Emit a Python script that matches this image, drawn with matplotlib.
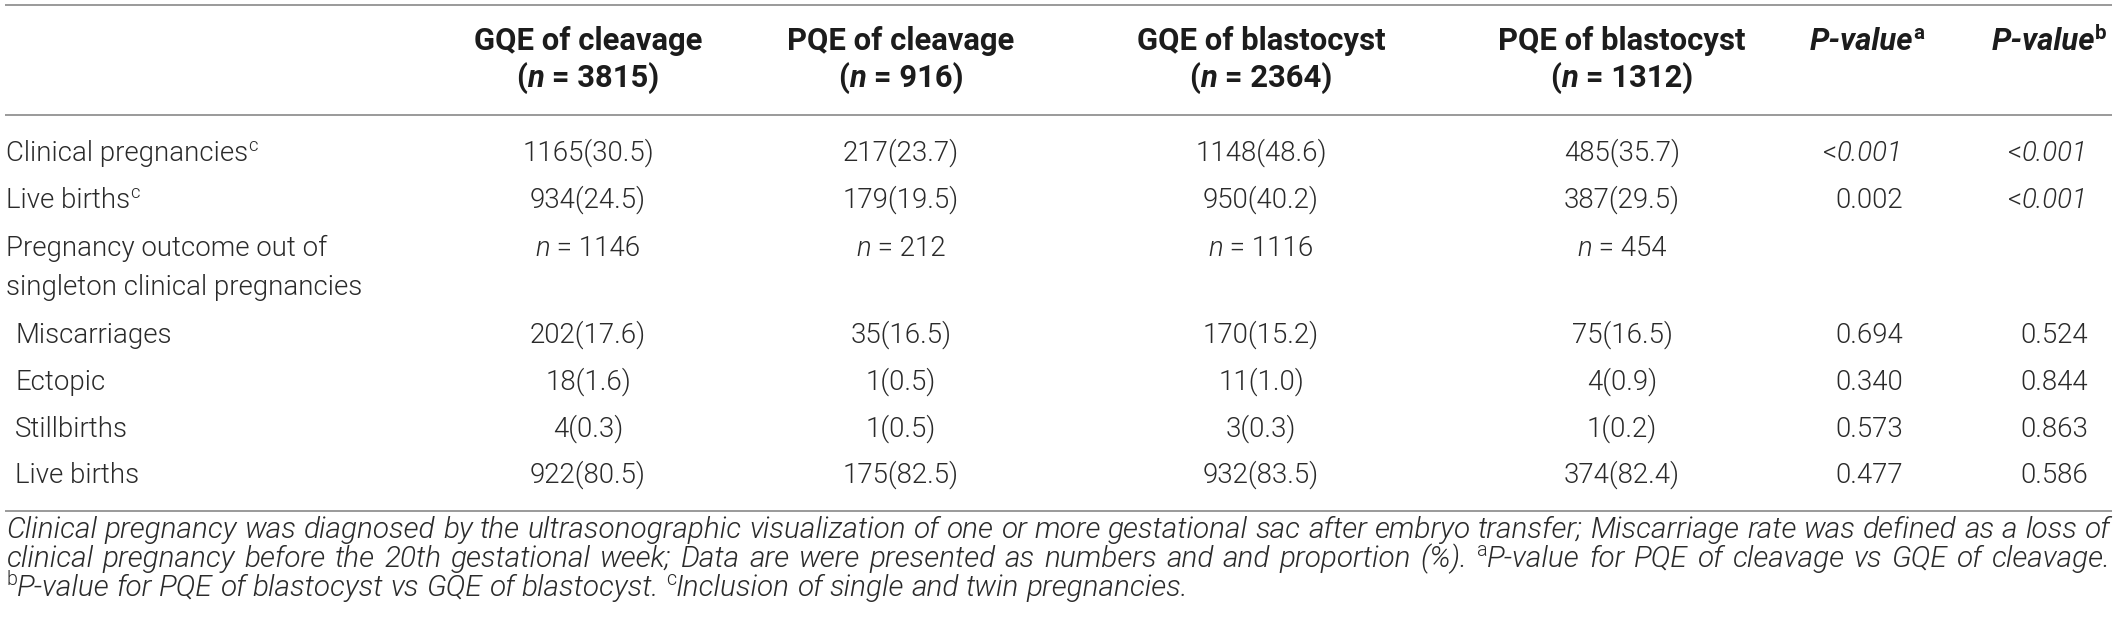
import matplotlib
matplotlib.use("Agg")
import matplotlib.pyplot as plt

# ---------------- data ----------------
group_names = ["GQE of cleavage", "PQE of cleavage", "GQE of blastocyst", "PQE of blastocyst"]
group_sizes = [3815, 916, 2364, 1312]
pvalue_headers = ["a", "b"]

row_labels = ["Clinical pregnancies", "Live births",
              "Pregnancy outcome out of\nsingleton clinical pregnancies",
              "Miscarriages", "Ectopic", "Stillbirths", "Live births"]
row_label_sup = ["c", "c", "", "", "", "", ""]
row_indented = [False, False, False, True, True, True, True]

gqe_cleavage_count = [1165, 934, 1146, 202, 18, 4, 922]
gqe_cleavage_pct = [30.5, 24.5, None, 17.6, 1.6, 0.3, 80.5]
pqe_cleavage_count = [217, 179, 212, 35, 1, 1, 175]
pqe_cleavage_pct = [23.7, 19.5, None, 16.5, 0.5, 0.5, 82.5]
gqe_blastocyst_count = [1148, 950, 1116, 170, 11, 3, 932]
gqe_blastocyst_pct = [48.6, 40.2, None, 15.2, 1.0, 0.3, 83.5]
pqe_blastocyst_count = [485, 387, 454, 75, 4, 1, 374]
pqe_blastocyst_pct = [35.7, 29.5, None, 16.5, 0.9, 0.2, 82.4]
p_value_a = ["<0.001", "0.002", "", "0.694", "0.340", "0.573", "0.477"]
p_value_b = ["<0.001", "<0.001", "", "0.524", "0.844", "0.863", "0.586"]

footnote_lines = [
    [("Clinical pregnancy was diagnosed by the ultrasonographic visualization of one or more "
      "gestational sac after embryo transfer; Miscarriage rate was defined as a loss of", "it")],
    [("clinical pregnancy before the 20th gestational week; Data are were presented as numbers "
      "and and proportion (%). ", "it"), ("a", "sup"),
     ("P-value for PQE of cleavage vs GQE of cleavage.", "it")],
    [("b", "sup"), ("P-value for PQE of blastocyst vs GQE of blastocyst. ", "it"),
     ("c", "sup"), ("Inclusion of single and twin pregnancies.", "it")],
]

# ---------------- layout ----------------
W, H = 2120, 634
fig = plt.figure(figsize=(W / 100, H / 100), dpi=100)
ax = fig.add_axes([0, 0, 1, 1])
ax.set_xlim(0, W)
ax.set_ylim(H, 0)
ax.axis("off")
renderer = fig.canvas.get_renderer()

FAM = ["Roboto", "Liberation Sans", "DejaVu Sans"]
TXT = "#2a2a2a"
HDR = "#1c1c1c"
RULE = "#9a9a9a"


def sty(size, weight=300, italic=False, color=TXT):
    return dict(family=FAM, fontsize=size, fontweight=weight,
                fontstyle="italic" if italic else "normal", color=color)


def adv(s, st):
    t1 = ax.text(0, 0, "H" + s + "H", **st)
    t2 = ax.text(0, 0, "HH", **st)
    w = (t1.get_window_extent(renderer=renderer).width
         - t2.get_window_extent(renderer=renderer).width)
    t1.remove()
    t2.remove()
    return w


def draw_runs(x, y, runs, ha="left"):
    ws = [adv(s, st) for s, st, dy in runs]
    tot = sum(ws)
    x0 = x - tot if ha == "right" else (x - tot / 2 if ha == "center" else x)
    for (s, st, dy), w in zip(runs, ws):
        ax.text(x0, y - dy, s, ha="left", va="baseline", **st)
        x0 += w
    return tot


# font sizes fitted to the reference text widths
body = 20 * 242 / adv("Clinical pregnancies", sty(20))
head = 20 * 228 / adv("GQE of cleavage", sty(20, 700, color=HDR))
foot_nat = sum(adv(s, sty(20, italic=(k == "it"))) if k == "it" else adv(s, sty(20 * 0.68))
               for s, k in footnote_lines[2])
foot = 20 * 1183 / foot_nat

px = 100 / 72.0
SUP = 0.66

# rules
for yy in (5, 115, 511):
    ax.plot([5, 2112], [yy, yy], color=RULE, lw=1.4, solid_capstyle="butt")

# header
col_x = [588, 901, 1261, 1622]
pa_right, pb_right = 1903, 2088
for cx, name, n in zip(col_x, group_names, group_sizes):
    draw_runs(cx, 50, [(name, sty(head, 700, color=HDR), 0)], ha="center")
    draw_runs(cx, 87, [("(", sty(head, 700, color=HDR), 0),
                       ("n", sty(head, 700, True, HDR), 0),
                       (" = %d)" % n, sty(head, 700, color=HDR), 0)], ha="center")
for cx, sup in zip([1867, 2049], pvalue_headers):
    draw_runs(cx, 50, [("P-value", sty(head, 700, True, HDR), 0),
                       (sup, sty(head * SUP, 700, color=HDR), head * px * 0.36)], ha="center")

# body rows
row_y = [161, 208, 256, 343, 390, 437, 483]
columns = [(gqe_cleavage_count, gqe_cleavage_pct), (pqe_cleavage_count, pqe_cleavage_pct),
           (gqe_blastocyst_count, gqe_blastocyst_pct), (pqe_blastocyst_count, pqe_blastocyst_pct)]
for i, y in enumerate(row_y):
    lx = 15 if row_indented[i] else 6
    parts = row_labels[i].split("\n")
    for j, p in enumerate(parts):
        runs = [(p, sty(body), 0)]
        if j == len(parts) - 1 and row_label_sup[i]:
            runs.append((row_label_sup[i], sty(body * SUP), body * px * 0.36))
        draw_runs(lx, y + 39 * j, runs)
    for cx, (cnt, pct) in zip(col_x, columns):
        if pct[i] is None:
            runs = [("n", sty(body, italic=True), 0), (" = %d" % cnt[i], sty(body), 0)]
        else:
            runs = [("%d(%.1f)" % (cnt[i], pct[i]), sty(body), 0)]
        draw_runs(cx, y, runs, ha="center")
    for xr, vals in ((pa_right, p_value_a), (pb_right, p_value_b)):
        v = vals[i]
        if v.startswith("<"):
            draw_runs(xr, y, [("<", sty(body), 0), (v[1:], sty(body, italic=True), 0)], ha="right")
        elif v:
            draw_runs(xr, y, [(v, sty(body), 0)], ha="right")

# footnotes (first two lines justified)
foot_y = [538, 567, 596]
x_left, x_right = 6, 2110
for li, (line, y) in enumerate(zip(footnote_lines, foot_y)):
    words = [[]]
    for s, k in line:
        st = sty(foot, italic=True) if k == "it" else sty(foot * SUP)
        dy = 0 if k == "it" else foot * px * 0.36
        chunks = s.split(" ")
        for ci, c in enumerate(chunks):
            if ci > 0:
                words.append([])
            if c:
                words[-1].append((c, st, dy))
    words = [w for w in words if w]
    ww = [sum(adv(s, st) for s, st, dy in w) for w in words]
    sp = adv(" ", sty(foot, italic=True))
    if li < 2:
        gap = (x_right - x_left - sum(ww)) / (len(words) - 1)
    else:
        gap = sp
    x = x_left
    for w, wd in zip(words, ww):
        draw_runs(x, y, w)
        x += wd + gap

fig.savefig("out.png", dpi=100)
